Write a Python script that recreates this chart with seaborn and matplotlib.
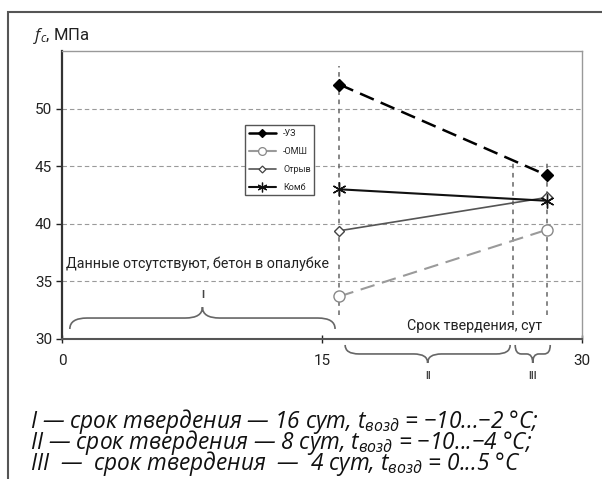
import numpy as np
import pandas as pd
import matplotlib
matplotlib.use("Agg")
import matplotlib.pyplot as plt
from matplotlib.lines import Line2D
from matplotlib.path import Path
from matplotlib.patches import PathPatch, Rectangle
import seaborn as sns

# values
days = [16, 28]
uz = [52.1, 44.2]
omsh = [33.7, 39.5]
otryv = [39.4, 42.3]
komb = [43.0, 42.0]
series_names = ["-УЗ", "-ОМШ", "Отрыв", "Комб"]

stage_bounds = [16, 26, 28]
stage_tops = [53.7, 45.5, 45.5]
yticks = [30, 35, 40, 45, 50]
xticks = [0, 15, 30]

notes = [
    "I — срок твердения — 16 сут, $t_{возд}$ = −10...−2 °C;",
    "II — срок твердения — 8 сут, $t_{возд}$ = −10...−4 °C;",
    "III  —  срок твердения  —  4 сут, $t_{возд}$ = 0...5 °C",
]

sns.set_style("white")
plt.rcParams["font.family"] = ["Roboto", "DejaVu Sans"]
plt.rcParams["mathtext.fontset"] = "custom"
plt.rcParams["mathtext.it"] = "Open Sans:italic"
plt.rcParams["mathtext.rm"] = "Open Sans"

df = pd.DataFrame({
    "day": days * 4,
    "f": uz + omsh + otryv + komb,
    "series": np.repeat(series_names, 2),
})

fig = plt.figure(figsize=(6.02, 4.79), dpi=100)
ax = fig.add_axes([0.103, 0.2923, 0.864, 0.601])

# frame around the whole figure
fig.patches.append(Rectangle((8 / 602, -0.05), 1.0, 1 - 12 / 479 + 0.05,
                             transform=fig.transFigure, fill=False,
                             edgecolor="#555555", lw=1.5))

styles = {
    "-УЗ": dict(color="black", lw=1.8, marker="D", ms=6,
               mfc="black", mec="black", mew=1.0),
    "-ОМШ": dict(color="#9a9a9a", lw=1.5, marker="o", ms=8,
                mfc="white", mec="#888888", mew=1.0),
    "Отрыв": dict(color="#555555", lw=1.2, marker="D", ms=5, mfc="white",
                  mec="#444444", mew=1.0),
    "Комб": dict(color="#111111", lw=1.5, marker=(6, 2, 0), ms=10,
                 mfc="#111111", mec="#111111", mew=1.0),
}
dash_map = {"-УЗ": (6, 3), "-ОМШ": (7, 3.7)}

# grid
for y in yticks[1:]:
    ax.axhline(y, color="#9a9a9a", lw=0.8, dashes=(4, 2.7), zorder=0)
ax.vlines(stage_bounds, 32.1, stage_tops, color="#666666", lw=1.1,
          linestyles=(0, (3, 3)), zorder=1)

for name in series_names:
    sub = df[df["series"] == name]
    before = list(ax.lines)
    sns.lineplot(data=sub, x="day", y="f", ax=ax, legend=False,
                 estimator=None, sort=False, **styles[name])
    for ln in ax.lines:
        if ln not in before and name in dash_map:
            ln.set_dashes(dash_map[name])

# legend with solid sample lines, as in the reference
handles = []
for name in series_names:
    st = styles[name]
    handles.append(Line2D([], [], color=st["color"], lw=st["lw"],
                          marker=st["marker"], ms=st["ms"] * 0.7,
                          mfc=st["mfc"], mec=st["mec"], mew=0.9, label=name))


def brace(ax, x0, x1, y0, h, rx, clip=True):
    xm = (x0 + x1) / 2
    ym = y0 + h / 2
    verts = [(x0, y0), (x0, ym), (x0 + rx, ym), (xm - rx, ym), (xm, ym),
             (xm, y0 + h), (xm, ym), (xm + rx, ym), (x1 - rx, ym), (x1, ym),
             (x1, y0)]
    codes = [Path.MOVETO, Path.CURVE3, Path.CURVE3, Path.LINETO, Path.CURVE3,
             Path.CURVE3, Path.CURVE3, Path.CURVE3, Path.LINETO, Path.CURVE3,
             Path.CURVE3]
    p = PathPatch(Path(verts, codes), fill=False, edgecolor="#666666", lw=1.2,
                  clip_on=clip)
    ax.add_patch(p)


brace(ax, 0.45, 15.75, 30.87, 1.9, 1.0)
brace(ax, 16.33, 25.85, 29.48, -1.56, 0.8, clip=False)
brace(ax, 26.14, 28.16, 29.48, -1.56, 0.35, clip=False)
ax.text(8.1, 33.8, "I", fontsize=8, fontweight="bold", color="#444444",
        ha="center", va="center")
ax.text(21.1, 26.8, "II", fontsize=7, fontweight="bold", color="#444444",
        ha="center", va="center", clip_on=False)
ax.text(27.15, 26.8, "III", fontsize=7, fontweight="bold", color="#444444",
        ha="center", va="center", clip_on=False)

ax.text(0.23, 36.15, "Данные отсутствуют, бетон в опалубке", fontsize=10.3,
        color="#222222", va="baseline")
ax.text(19.9, 30.78, "Срок твердения, сут", fontsize=10.3, color="#222222",
        va="baseline")

ax.set_xlim(0, 30)
ax.set_ylim(30, 55)
ax.set_xticks(xticks)
ax.set_yticks(yticks)
ax.set_xlabel("")
ax.set_ylabel("")
ax.tick_params(axis="y", direction="out", length=4, width=1, labelsize=11,
               pad=3, colors="#222222", left=True)
ax.tick_params(axis="x", direction="inout", length=6, width=1, labelsize=11,
               pad=8, colors="#222222", bottom=True)

ax.spines["left"].set_color("#333333")
ax.spines["left"].set_linewidth(1.6)
ax.spines["bottom"].set_color("#555555")
ax.spines["bottom"].set_linewidth(1.5)
for s in ["top", "right"]:
    ax.spines[s].set_color("#999999")
    ax.spines[s].set_linewidth(1.0)
    ax.spines[s].set_visible(True)

ax.legend(handles=handles, loc="upper left", bbox_to_anchor=(0.352, 0.743),
          borderaxespad=0, fontsize=6.5, frameon=True, edgecolor="#555555",
          fancybox=False, handlelength=3, labelspacing=1.0, framealpha=1)

fig.text(33 / 602, 1 - 40 / 479, "$f_c$, МПа", fontsize=12, color="#222222",
         va="baseline")

for i, line in enumerate(notes):
    fig.text(30 / 602, (479 - 428 - 21 * i) / 479, line, fontsize=16.3,
             fontstyle="italic", family=["Open Sans", "DejaVu Sans"],
             color="#111111", va="baseline")

fig.savefig("out.png", dpi=100)
